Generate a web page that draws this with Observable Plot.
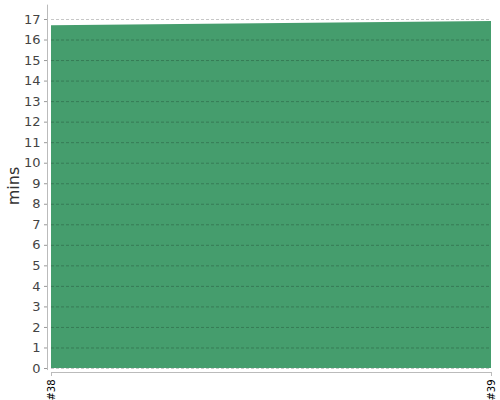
<!DOCTYPE html>
<html>
<head>
<meta charset="utf-8">
<script src="https://cdn.jsdelivr.net/npm/d3@7"></script>
<script src="https://cdn.jsdelivr.net/npm/@observablehq/plot@0.6"></script>
<style>
  html, body { margin: 0; padding: 0; background: #fff; }
  svg { display: block; }
</style>
</head>
<body>
<div id="chart"></div>
<script>
const builds = ["#38", "#39"];
const minutes = [16.7, 16.9];
const yTicks = d3.range(0, 18);
const yLabel = "mins";

const data = builds.map((b, i) => ({build: b, value: minutes[i]}));

const chart = Plot.plot({
  width: 500,
  height: 400,
  marginLeft: 51,
  marginRight: 9,
  marginTop: 19,
  marginBottom: 32,
  style: {fontFamily: "DejaVu Sans, sans-serif", background: "#fff"},
  x: {type: "point", domain: builds, padding: 0, axis: null},
  y: {domain: [0, 17], axis: null},
  marks: [
    Plot.areaY(data, {x: "build", y: "value", fill: "#459d6d"}),
    Plot.gridY(yTicks, {stroke: "#000", strokeOpacity: 0.22, strokeDasharray: "3,2"}),
    // y axis line
    Plot.ruleX([builds[0]], {y1: -0.1, y2: 17.7, dx: -4, stroke: "#bbb"}),
    Plot.axisY({ticks: yTicks, tickSize: 3, tickPadding: 4, tickFormat: d => d, fontSize: 13, color: "#444", stroke: "#999", label: null, dx: -4}),
    // x axis
    Plot.ruleY([0], {dy: 4, stroke: "#bbb"}),
    Plot.axisX({ticks: builds, tickSize: 4, tickRotate: -90, tickPadding: 3, fontSize: 10, color: "#000", stroke: "#bbb", label: null, dy: 4}),
    Plot.text([yLabel], {frameAnchor: "left", textAnchor: "middle", dx: -38, dy: -8, rotate: -90, fontSize: 16, fill: "#333", text: d => d})
  ]
});
document.getElementById("chart").appendChild(chart);
</script>
</body>
</html>
